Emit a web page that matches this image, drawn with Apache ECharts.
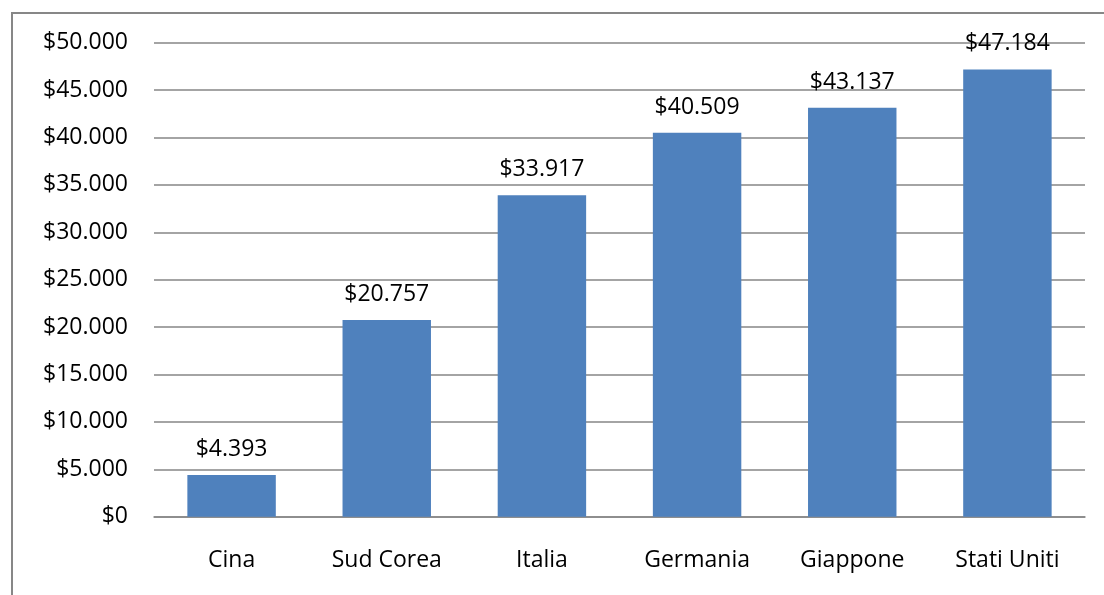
<!DOCTYPE html>
<html>
<head>
<meta charset="utf-8">
<script src="https://cdn.jsdelivr.net/npm/echarts@6/dist/echarts.min.js"></script>
<style>
  html, body { margin: 0; padding: 0; background: #fff; }
  #chart { width: 1104px; height: 595px; }
</style>
</head>
<body>
<div id="chart"></div>
<script>
// Reddito pro capite per paese (dollari)
const categories = ['Cina', 'Sud Corea', 'Italia', 'Germania', 'Giappone', 'Stati Uniti'];
const values = [4393, 20757, 33917, 40509, 43137, 47184];
const yMin = 0;
const yMax = 50000;
const yStep = 5000;

// "$47.184" style: dot as thousands separator
function dollars(v) {
  const s = String(Math.round(v)).replace(/\B(?=(\d{3})+(?!\d))/g, '.');
  return '$' + s;
}

const FONT = 'Open Sans';
const FS = 23;
const chart = echarts.init(document.getElementById('chart'), null, { renderer: 'canvas' });

chart.setOption({
  backgroundColor: '#ffffff',
  animation: false,
  textStyle: { fontFamily: FONT },
  graphic: [{
    type: 'rect',
    shape: { x: 12, y: 13, width: 1200, height: 700 },
    style: { fill: 'none', stroke: '#878787', lineWidth: 2 },
    z: -1
  }],
  grid: { left: 154, right: 19, top: 42.7, bottom: 78.3, containLabel: false },
  xAxis: {
    type: 'category',
    data: categories,
    axisTick: { show: false },
    axisLine: { show: true, lineStyle: { color: '#868686', width: 1.5 } },
    axisLabel: { color: '#000', fontFamily: FONT, fontSize: FS, margin: 32 }
  },
  yAxis: {
    type: 'value',
    min: yMin,
    max: yMax,
    interval: yStep,
    axisLine: { show: false },
    axisTick: { show: false },
    splitLine: { show: true, lineStyle: { color: '#868686', width: 1.5 } },
    axisLabel: { color: '#000', fontFamily: FONT, fontSize: FS, margin: 26, formatter: dollars }
  },
  series: [{
    type: 'bar',
    data: values,
    barCategoryGap: '43%',
    itemStyle: { color: '#4F81BD' },
    label: {
      show: true,
      position: 'top',
      distance: 14,
      color: '#000',
      fontFamily: FONT,
      fontSize: FS,
      formatter: p => dollars(p.value)
    }
  }]
});
</script>
</body>
</html>
